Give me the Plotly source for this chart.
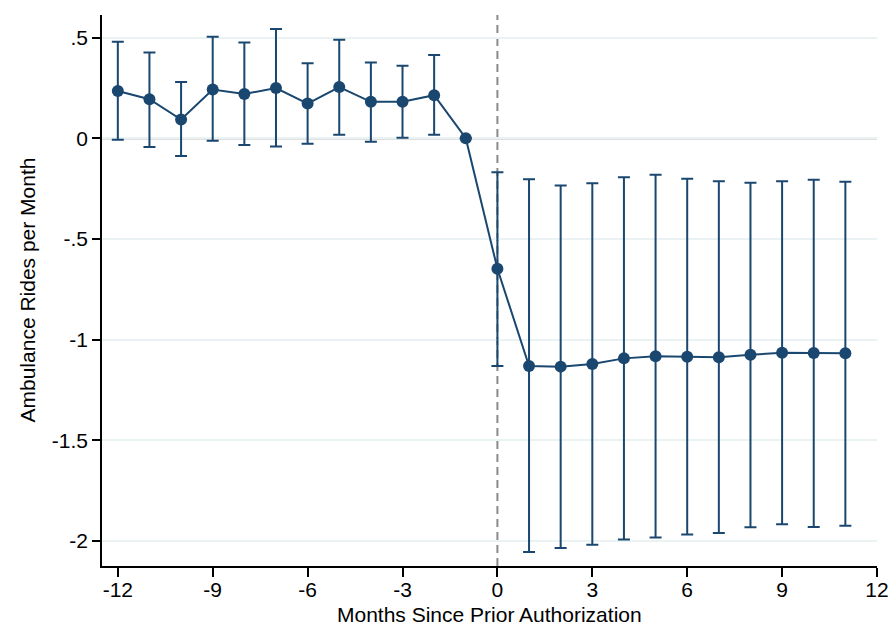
import plotly.graph_objects as go

months = [-12, -11, -10, -9, -8, -7, -6, -5, -4, -3, -2, -1, 0, 1, 2, 3, 4, 5, 6, 7, 8, 9, 10, 11]
coef = [0.235, 0.194, 0.093, 0.242, 0.220, 0.249, 0.172, 0.254, 0.181, 0.181, 0.214, 0.0,
        -0.648, -1.131, -1.134, -1.121, -1.093, -1.083, -1.085, -1.088, -1.075, -1.065, -1.066, -1.068]
ci_hi = [0.479, 0.426, 0.279, 0.504, 0.476, 0.542, 0.373, 0.489, 0.376, 0.360, 0.413, None,
         -0.169, -0.204, -0.234, -0.224, -0.194, -0.181, -0.201, -0.214, -0.221, -0.214, -0.206, -0.216]
ci_lo = [-0.007, -0.043, -0.088, -0.012, -0.033, -0.041, -0.027, 0.017, -0.017, 0.003, 0.017, None,
         -1.131, -2.055, -2.035, -2.018, -1.993, -1.983, -1.968, -1.960, -1.932, -1.917, -1.930, -1.924]

x_ticks = [-12, -9, -6, -3, 0, 3, 6, 9, 12]
y_ticks = [0.5, 0, -0.5, -1, -1.5, -2]
y_tick_labels = [".5", "0", "-.5", "-1", "-1.5", "-2"]

x_title = "Months Since Prior Authorization"
y_title = "Ambulance Rides per Month"

navy = "#1a476f"

err_plus = [None if h is None else h - c for h, c in zip(ci_hi, coef)]
err_minus = [None if l is None else c - l for l, c in zip(ci_lo, coef)]

fig = go.Figure()

fig.add_trace(go.Scatter(
    x=months, y=coef, mode="lines+markers",
    line=dict(color=navy, width=2),
    marker=dict(color=navy, size=12),
    error_y=dict(type="data", symmetric=False, array=err_plus, arrayminus=err_minus,
                 color=navy, thickness=2, width=6),
    showlegend=False,
))

# reference lines
fig.add_hline(y=0, line=dict(color="#808080", width=2), layer="below")
fig.add_vline(x=0, line=dict(color="#8a8a8a", width=2, dash="8px,5px"), layer="below")

font = "Liberation Sans, Arial, sans-serif"
fs = 21

fig.update_layout(
    width=891, height=625,
    paper_bgcolor="white", plot_bgcolor="white",
    margin=dict(l=102, r=14, t=15, b=59, autoexpand=False),
    font=dict(family=font, size=fs, color="black"),
    xaxis=dict(
        range=[-12.5, 12], tickvals=x_ticks, ticktext=[str(v) for v in x_ticks],
        showgrid=False, zeroline=False, showline=True, linecolor="black", linewidth=1.5,
        ticks="outside", ticklen=9, tickcolor="black", tickwidth=1.5,
        tickfont=dict(size=fs, family=font), automargin=False, ticklabelstandoff=-5,
    ),
    yaxis=dict(
        range=[-2.124, 0.612], tickvals=y_ticks, ticktext=y_tick_labels,
        showgrid=True, gridcolor="#eaf2f3", gridwidth=2, zeroline=False,
        showline=True, linecolor="black", linewidth=1.5,
        ticks="outside", ticklen=8, tickcolor="black", tickwidth=1.5,
        tickfont=dict(size=fs, family=font), automargin=False,
    ),
    annotations=[
        dict(text=x_title, xref="paper", yref="paper", x=0.5, y=0, xanchor="center",
             yanchor="middle", yshift=-48, showarrow=False, font=dict(size=fs, family=font)),
        dict(text=y_title, xref="paper", yref="paper", x=0, y=0.5, xanchor="center",
             yanchor="middle", xshift=-75, textangle=-90, showarrow=False,
             font=dict(size=fs, family=font)),
    ],
)

fig.write_html("out.html", config={"displayModeBar": False},
               post_script="document.body.style.margin='0';")
